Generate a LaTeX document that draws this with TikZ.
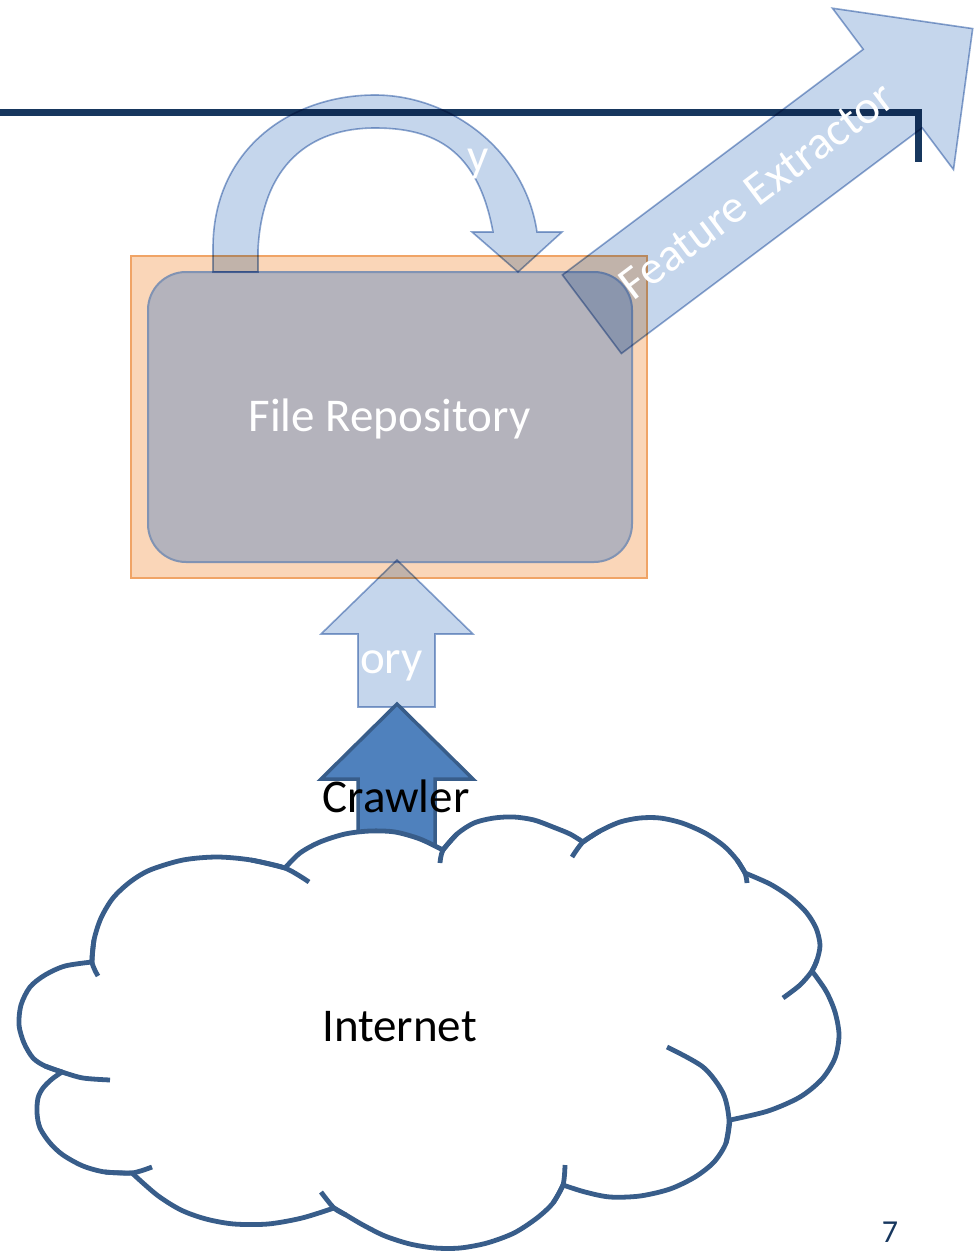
\documentclass[tikz,border=0pt]{standalone}
\usepackage{fontspec}
\setmainfont{Carlito}
\definecolor{navyc}{HTML}{17375E}
\definecolor{peach}{HTML}{FAD6B8}
\definecolor{peachline}{HTML}{F0A466}
\definecolor{slate}{HTML}{B4B3BC}
\definecolor{slateline}{HTML}{8193B3}
\definecolor{paleblue}{HTML}{C5D6EC}
\definecolor{paleline}{HTML}{8EA8D0}
\definecolor{midblue}{HTML}{4F81BD}
\definecolor{cloudline}{HTML}{385D8A}
\begin{document}
\begin{tikzpicture}[x=1pt,y=-1pt,
  wtext/.style={text=white, inner sep=0pt, font=\fontsize{47}{56}\selectfont},
  btext/.style={text=black, inner sep=0pt, font=\fontsize{47}{56}\selectfont},
  ghostarrow/.style={fill=paleblue, draw=paleline, line width=1.6pt, line join=miter},
  solidarrow/.style={fill=midblue, draw=cloudline, line width=3.5pt, line join=miter},
  cloudedge/.style={draw=cloudline, line width=4.8pt, line join=round},
  cloudstub/.style={draw=cloudline, line width=4.8pt, line cap=butt}]
\useasboundingbox (0,0) rectangle (974,1252);

% rule along the top with its right-hand drop
\draw[navyc, line width=7pt, line join=miter] (0,113) -- (918,113) -- (918,162);

% repository: outer frame and rounded store
\draw[fill=peach, draw=peachline, line width=1.5pt] (131,256) rectangle (647,578);
\draw[fill=slate, draw=slateline, line width=2pt, rounded corners=38pt] (148,272) rectangle (632,562);

% translucent flow arrows
\begin{scope}[blend mode=multiply]
  % loop arrow above the store
  \path[ghostarrow] (213,272) -- (213,250)
     .. controls (212,150) and (290,95) .. (375,95)
     .. controls (450,95) and (525,150) .. (537,232)
     -- (562,232) -- (518,272) -- (472,232) -- (493,232)
     .. controls (478,150) and (435,128) .. (375,128)
     .. controls (310,128) and (262,165) .. (258,250)
     -- (258,272) -- cycle;
  % diagonal arrow to the feature extractor
  \path[ghostarrow] (562.4,274.9) -- (863.2,49.3) -- (832.4,8.2) -- (972.7,28.6)
     -- (953.5,169.6) -- (922.2,127.9) -- (621.4,353.5) -- cycle;
  % arrow feeding the store from below
  \path[ghostarrow] (397,560) -- (473,634) -- (435,634) -- (435,707)
     -- (358,707) -- (358,634) -- (321,634) -- cycle;
\end{scope}

\node[wtext, anchor=base west] (looplabel) at (467,172) {y};
\node[wtext, anchor=base east] (feedlabel) at (423,673) {ory};
\node[wtext, anchor=base] (store) at (389.5,431) {File Repository};
\node[wtext, rotate=36.87] (extractor) at (756.7,190.6) {Feature Extractor};

% crawler arrow
\path[solidarrow] (397,704) -- (473,779) -- (435,779) -- (435,870)
   -- (358,870) -- (358,779) -- (321,779) -- cycle;

% the internet cloud
\path[cloudedge, fill=white]
  plot[smooth] coordinates {(92,962) (94,940) (101,918) (113,898) (130,882) (150,870) (183,860) (217,857) (251,860) (285,868)}
  -- plot[smooth] coordinates {(285,868) (300,853) (320,842) (345,834) (370,831) (395,832) (420,839) (443,850)}
  -- plot[smooth] coordinates {(443,850) (457,834) (474,823) (494,818) (514,817) (534,820) (553,827) (570,834) (583,842)}
  -- plot[smooth] coordinates {(583,842) (600,831) (620,822) (640,818) (660,818) (682,823) (705,833) (724,846) (737,860) (745,873)}
  -- plot[smooth] coordinates {(745,873) (770,884) (790,897) (806,912) (816,928) (820,945) (817,960) (812,971)}
  -- plot[smooth] coordinates {(812,971) (826,991) (835,1012) (839,1035) (835,1058) (822,1079) (800,1097) (768,1111) (730,1120)}
  -- plot[smooth] coordinates {(730,1120) (726,1143) (714,1162) (695,1177) (670,1189) (640,1196) (610,1197) (585,1192) (563,1185)}
  -- plot[smooth] coordinates {(563,1185) (553,1203) (537,1218) (514,1233) (487,1243) (460,1248) (435,1248) (410,1244) (385,1236) (363,1225) (346,1215) (334,1208)}
  -- plot[smooth] coordinates {(334,1208) (302,1218) (268,1224) (234,1224) (206,1219) (181,1210) (157,1195) (132,1173)}
  -- plot[smooth] coordinates {(132,1173) (105,1172) (83,1166) (63,1155) (50,1143) (40,1128) (37,1113) (38,1098) (43,1088) (52,1079) (62,1072)}
  -- plot[smooth] coordinates {(62,1072) (45,1066) (33,1058) (24,1043) (19,1025) (21,1005) (30,987) (45,975) (65,966) (92,962)}
  -- cycle;
% inner continuations of the cloud lobes
\draw[cloudstub] plot[smooth] coordinates {(94,940) (92,962) (98,976)};
\draw[cloudstub] plot[smooth] coordinates {(251,860) (285,868) (309,882)};
\draw[cloudstub] plot[smooth] coordinates {(457,834) (443,850) (440,863)};
\draw[cloudstub] plot[smooth] coordinates {(600,831) (583,842) (572,857)};
\draw[cloudstub] plot[smooth] coordinates {(737,860) (745,873) (747,883)};
\draw[cloudstub] plot[smooth] coordinates {(817,960) (812,971) (800,985) (783,998)};
\draw[cloudstub] plot[smooth] coordinates {(726,1143) (729,1120) (723,1093) (703,1067) (667,1047)};
\draw[cloudstub] plot[smooth] coordinates {(553,1203) (563,1185) (565,1165)};
\draw[cloudstub] plot[smooth] coordinates {(346,1215) (334,1208) (321,1192)};
\draw[cloudstub] plot[smooth] coordinates {(105,1172) (132,1173) (152,1167)};
\draw[cloudstub] plot[smooth] coordinates {(45,1066) (62,1072) (83,1078) (110,1080)};

\node[btext, anchor=base] (crawler) at (396,812) {Crawler};
\node[btext, anchor=base] (internet) at (399.5,1041) {Internet};
\node[anchor=base, inner sep=0pt, text=navyc, font=\fontsize{32}{38}\selectfont] (pageno) at (890,1242) {7};
\end{tikzpicture}
\end{document}
